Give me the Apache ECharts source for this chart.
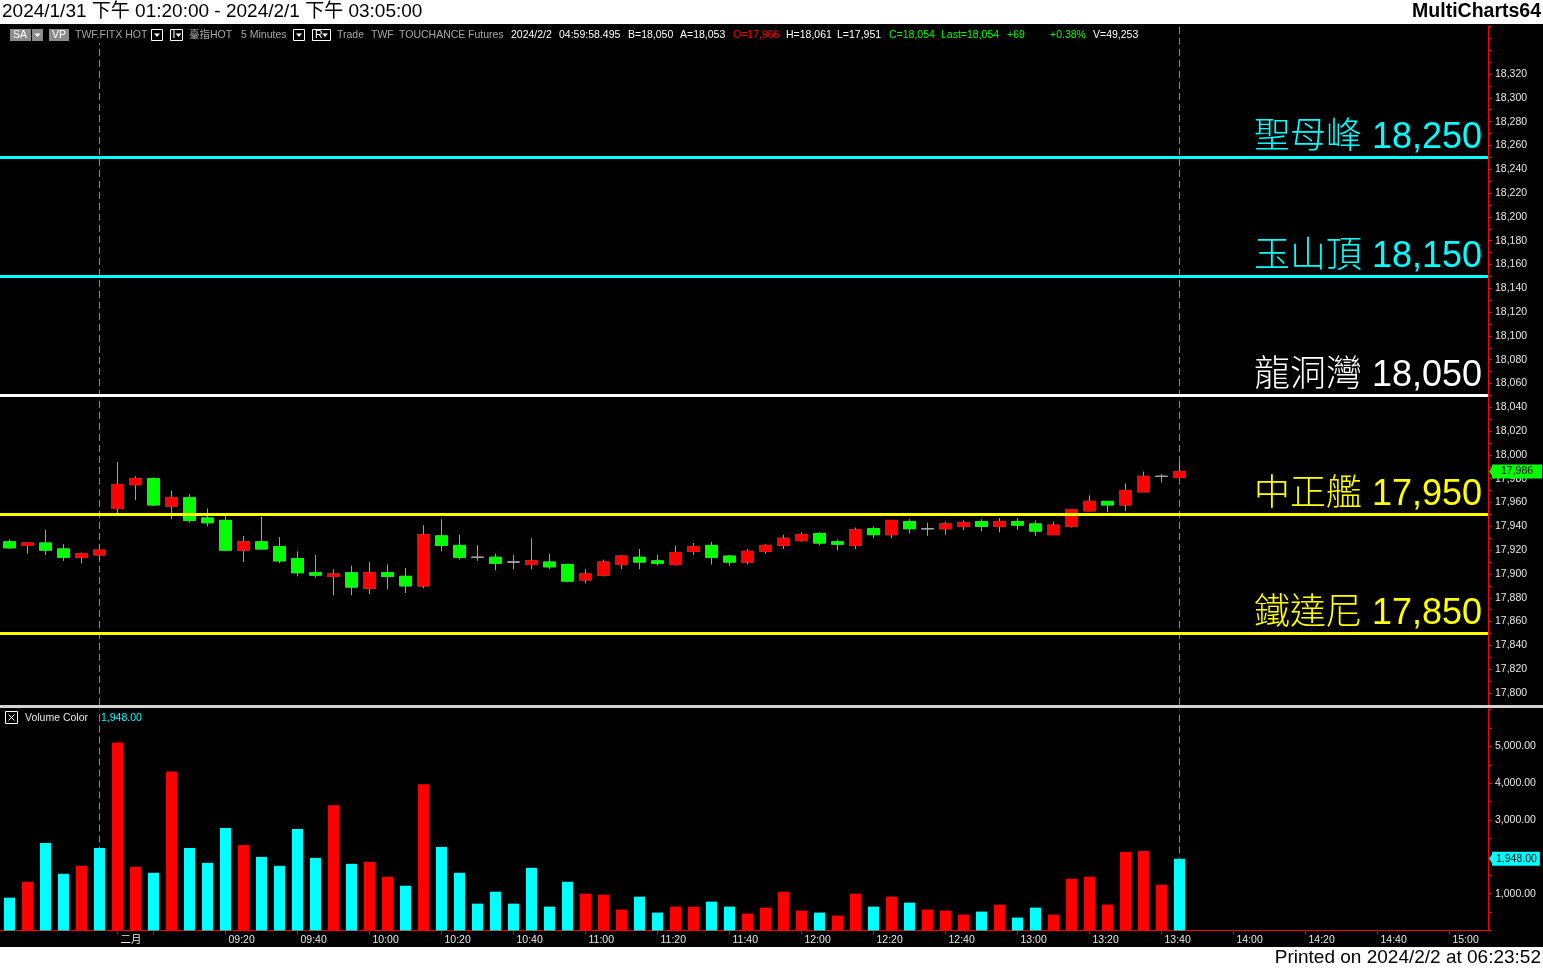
<!DOCTYPE html>
<html><head><meta charset="utf-8">
<script src="https://cdn.jsdelivr.net/npm/echarts@6/dist/echarts.min.js"></script>
<style>html,body{margin:0;padding:0;background:#000;overflow:hidden}#c{width:1543px;height:969px}</style>
</head><body><div id="c"></div>
<script>
// ---------- data ----------
const categories = ["04:35","04:40","04:45","04:50","04:55","05:00",
"08:50","08:55","09:00","09:05","09:10","09:15","09:20","09:25","09:30","09:35","09:40","09:45","09:50","09:55",
"10:00","10:05","10:10","10:15","10:20","10:25","10:30","10:35","10:40","10:45","10:50","10:55",
"11:00","11:05","11:10","11:15","11:20","11:25","11:30","11:35","11:40","11:45","11:50","11:55",
"12:00","12:05","12:10","12:15","12:20","12:25","12:30","12:35","12:40","12:45","12:50","12:55",
"13:00","13:05","13:10","13:15","13:20","13:25","13:30","13:35","13:40","13:45","13:50","13:55",
"14:00","14:05","14:10","14:15","14:20","14:25","14:30","14:35","14:40","14:45","14:50","14:55",
"15:00","15:05","15:10"];
const dayLabel = "二月";
const tickIndexes = [6,8,12,16,20,24,28,32,36,40,44,48,52,56,60,64,68,72,76,80];
const labelIndexes = [6,12,16,20,24,28,32,36,40,44,48,52,56,60,64,68,72,76,80];

const openP  = [17927,17924,17926,17921,17914,17916,17955,17975,17980,17957,17964,17947,17945,17920,17927,17923,17913,17901,17898,17901,17888,17901,17898,17890,17932,17924,17914,17914,17910,17908,17910,17908,17895,17899,17908,17914,17911,17908,17919,17924,17915,17910,17919,17924,17928,17934,17927,17924,17938,17933,17944,17938,17938,17940,17944,17940,17944,17942,17933,17940,17953,17961,17958,17969,17982,17981];
const closeP = [17922,17926,17920,17914,17917,17920,17975,17980,17958,17964,17945,17943,17920,17927,17921,17911,17901,17899,17900,17889,17901,17898,17890,17933,17924,17914,17914,17909,17910,17911,17906,17894,17900,17910,17915,17910,17909,17918,17923,17914,17910,17919,17924,17930,17933,17926,17925,17937,17933,17945,17938,17938,17942,17943,17940,17944,17941,17936,17941,17954,17961,17958,17970,17982,17982,17986];
const lowP   = [17921,17917,17916,17911,17909,17912,17951,17962,17957,17946,17943,17940,17919,17910,17921,17909,17898,17897,17882,17882,17883,17887,17884,17888,17919,17912,17911,17903,17904,17904,17904,17893,17892,17898,17904,17904,17907,17907,17916,17908,17907,17908,17917,17921,17927,17924,17920,17921,17930,17930,17934,17932,17933,17937,17936,17935,17937,17932,17933,17939,17953,17952,17953,17969,17977,17981];
const highP  = [17929,17926,17937,17925,17918,17924,17994,17982,17981,17970,17967,17955,17949,17932,17948,17931,17919,17916,17904,17907,17910,17908,17905,17941,17946,17933,17924,17917,17916,17930,17917,17908,17904,17912,17916,17921,17916,17924,17926,17927,17916,17921,17925,17933,17935,17935,17929,17939,17940,17945,17946,17943,17944,17945,17946,17947,17947,17945,17944,17954,17966,17961,17976,17986,17984,17994];

const volumes = [892,1324,2378,1541,1757,2243,5108,1730,1568,4324,2243,1838,2784,2324,2000,1757,2757,1973,3405,1811,1865,1459,1216,3973,2270,1568,730,1054,730,1703,649,1324,1000,973,568,919,486,649,649,784,649,459,622,1054,541,486,405,1000,649,919,757,568,541,432,514,703,351,622,432,1405,1459,703,2135,2162,1243,1948];
// 1 = red (up volume), 0 = cyan (down volume)
const volumeUp = [0,1,0,0,1,0,1,1,0,1,0,0,0,1,0,0,0,0,1,0,1,1,0,1,0,0,0,0,0,0,0,0,1,1,1,0,0,1,1,0,0,1,1,1,1,0,1,1,0,1,0,1,1,1,0,1,0,0,1,1,1,1,1,1,1,0];

const levelNames  = ["聖母峰","玉山頂","龍洞灣","中正艦","鐵達尼"];
const levelValues = [18250,18150,18050,17950,17850];
const levelColors = ["#00FFFF","#00FFFF","#FFFFFF","#FFFF00","#FFFF00"];
const lastPrice = 17986;
const lastVolume = 1948;
const sessionBreakIdx = [5, 65];

// ---------- helpers ----------
const FONT = '"Liberation Sans", "Noto Sans CJK TC", sans-serif';
function fmtInt(v){ return String(Math.round(v)).replace(/\B(?=(\d{3})+(?!\d))/g, ','); }
function fmt2(v){ return v.toFixed(2).replace(/\B(?=(\d{3})+(?!\d))/g, ','); }

const candleData = openP.map((o,i)=>[o, closeP[i], lowP[i], highP[i]]);
const bodyData = openP.map((o,i)=>[o, closeP[i], Math.min(o, closeP[i]), Math.max(o, closeP[i])]);
const volData = volumes.map((v,i)=>({value: v, itemStyle: {color: volumeUp[i] ? '#FF0000' : '#00FFFF'}}));

const PRICE_MIN = 17790, PRICE_MAX = 18360;
const priceTop = 26.4, priceH = 678.5;
const volTop = 709.7, volH = 220.8;

const tagPath = 'path://M0,5 L4,0 L4,10 Z';

const option = {
  backgroundColor: '#000',
  animation: false,
  grid: [
    {left: 0.5, top: priceTop, width: 1494, height: priceH, outerBoundsMode: 'none'},
    {left: 0, top: priceTop, width: 1488, height: priceH, outerBoundsMode: 'none'},
    {left: 0.5, top: volTop, width: 1494, height: volH, outerBoundsMode: 'none'},
    {left: 0, top: volTop, width: 1488, height: volH, outerBoundsMode: 'none'}
  ],
  xAxis: [
    {type: 'category', gridIndex: 0, data: categories, boundaryGap: true, show: false},
    {type: 'value', gridIndex: 1, min: 0, max: 1, show: false},
    {type: 'category', gridIndex: 2, data: categories, boundaryGap: true,
      axisLine: {show: false},
      axisTick: {show: true, alignWithLabel: true, length: 4, lineStyle: {color: '#FF0000'},
        interval: (idx) => tickIndexes.indexOf(idx) >= 0},
      axisLabel: {show: true, interval: (idx) => labelIndexes.indexOf(idx) >= 0,
        align: 'left', padding: [0,0,0,3], margin: 4, color: '#E8E8E8', fontSize: 10.5, fontFamily: FONT,
        formatter: (val, idx) => idx === 6 ? dayLabel : val},
      splitLine: {show: false}},
    {type: 'value', gridIndex: 3, min: 0, max: 1, show: true,
      axisLine: {show: true, onZero: false, lineStyle: {color: '#FF0000', width: 1}},
      axisTick: {show: false}, axisLabel: {show: false}, splitLine: {show: false}}
  ],
  yAxis: [
    {type: 'value', gridIndex: 0, min: PRICE_MIN, max: PRICE_MAX, show: false},
    {type: 'value', gridIndex: 1, position: 'right', min: PRICE_MIN, max: PRICE_MAX, interval: 10,
      axisLine: {show: true, onZero: false, lineStyle: {color: '#FF0000', width: 1}},
      axisTick: {show: true, length: 4, lineStyle: {color: '#FF0000'}},
      axisLabel: {show: true, margin: 7, color: '#E8E8E8', fontSize: 10.5, fontFamily: FONT,
        formatter: (v) => (v % 20 === 0 && v <= 18320 && v >= 17800) ? fmtInt(v) : ''},
      splitLine: {show: false}},
    {type: 'value', gridIndex: 2, min: 0, max: 6000, show: false},
    {type: 'value', gridIndex: 3, position: 'right', min: 0, max: 6000, interval: 500,
      axisLine: {show: true, onZero: false, lineStyle: {color: '#FF0000', width: 1}},
      axisTick: {show: true, length: 4, lineStyle: {color: '#FF0000'}},
      axisLabel: {show: true, margin: 7, color: '#E8E8E8', fontSize: 10.5, fontFamily: FONT,
        formatter: (v) => (v % 1000 === 0 && v >= 1000 && v <= 5000 && v !== 2000) ? fmt2(v) : ''},
      splitLine: {show: false}}
  ],
  series: [
    // session break dashed lines (price pane)
    {type: 'line', xAxisIndex: 0, yAxisIndex: 0, data: categories.map(()=>null), showSymbol: false, silent: true, z: 1,
      markLine: {z: 1, silent: true, symbol: ['none','none'], label: {show: false},
        lineStyle: {color: '#8A8A8A', type: [7,4], width: 1},
        data: sessionBreakIdx.map(i => ({xAxis: categories[i]}))}},
    // wicks
    {type: 'candlestick', xAxisIndex: 0, yAxisIndex: 0, data: candleData, barWidth: 12, silent: true, z: 2,
      itemStyle: {color: 'transparent', color0: 'transparent', borderColor: '#A0A0A0', borderColor0: '#A0A0A0', borderColorDoji: '#A0A0A0', borderWidth: 1}},
    // bodies
    {type: 'candlestick', xAxisIndex: 0, yAxisIndex: 0, data: bodyData, barWidth: 12, silent: true, z: 3,
      itemStyle: {color: '#FF0000', color0: '#00FF00', borderColor: '#FF0000', borderColor0: '#00FF00', borderColorDoji: '#A0A0A0', borderWidth: 1}},
    // level lines
    {type: 'line', xAxisIndex: 1, yAxisIndex: 1, data: [[0, levelValues[0]]], showSymbol: false, lineStyle: {opacity: 0}, silent: true, z: 4,
      markLine: {silent: true, symbol: ['none','none'],
        data: levelValues.map((v,i)=>({
          yAxis: v,
          lineStyle: {color: levelColors[i], width: 3, type: 'solid'},
          label: {show: true, position: 'insideEndTop', distance: [6, 1], color: levelColors[i],
            fontSize: 36, fontWeight: 300, fontFamily: FONT, formatter: levelNames[i] + ' ' + fmtInt(v)}
        }))}},
    // last price tag
    {type: 'line', xAxisIndex: 1, yAxisIndex: 1, data: [[0, lastPrice]], showSymbol: false, lineStyle: {opacity: 0}, silent: true, z: 6,
      markLine: {silent: true, symbol: ['none','none'],
        data: [{yAxis: lastPrice, lineStyle: {color: 'rgba(0,0,0,0)', width: 0},
          label: {show: true, position: 'end', distance: 4, color: '#000', backgroundColor: '#00FF00',
            padding: [2, 9, 1, 9], lineHeight: 11, fontSize: 10.5, fontFamily: FONT, formatter: fmtInt(lastPrice)}}]},
      markPoint: {silent: true, label: {show: false},
        data: [{coord: [1, lastPrice], symbol: tagPath, symbolSize: [4, 12], symbolOffset: [3, 0], itemStyle: {color: '#00FF00'}}]}},
    // session break dashed lines (volume pane), under bars
    {type: 'line', xAxisIndex: 2, yAxisIndex: 2, data: categories.map(()=>null), showSymbol: false, silent: true, z: 1,
      markLine: {z: 1, silent: true, symbol: ['none','none'], label: {show: false},
        lineStyle: {color: '#8A8A8A', type: [7,4], width: 1},
        data: sessionBreakIdx.map(i => ({xAxis: categories[i]}))}},
    // volume bars
    {type: 'bar', xAxisIndex: 2, yAxisIndex: 2, data: volData, barWidth: 11, silent: true, z: 2},
    // volume tag
    {type: 'line', xAxisIndex: 3, yAxisIndex: 3, data: [[0, lastVolume]], showSymbol: false, lineStyle: {opacity: 0}, silent: true, z: 6,
      markLine: {silent: true, symbol: ['none','none'],
        data: [{yAxis: lastVolume, lineStyle: {color: 'rgba(0,0,0,0)', width: 0},
          label: {show: true, position: 'end', distance: 4, color: '#000', backgroundColor: '#00FFFF',
            padding: [2, 3, 1, 4], lineHeight: 11, fontSize: 10.5, fontFamily: FONT, formatter: fmt2(lastVolume)}}]},
      markPoint: {silent: true, label: {show: false},
        data: [{coord: [1, lastVolume], symbol: tagPath, symbolSize: [4, 12], symbolOffset: [3, 0], itemStyle: {color: '#00FFFF'}}]}}
  ],
  graphic: []
};

// ---------- decorations (header, info bar, footer) ----------
const G = option.graphic;
const small = '10.5px ' + FONT;
function txt(x, y, s, fill, font, align){ G.push({type: 'text', x: x, y: y, z: 101, silent: true,
  style: {text: s, fill: fill, font: font || small, align: align || 'left', verticalAlign: 'middle'}}); }
function tri(cx, cy, fill){ G.push({type: 'polygon', z: 102, silent: true,
  shape: {points: [[cx-3, cy-1.5], [cx+3, cy-1.5], [cx, cy+2]]}, style: {fill: fill || '#fff'}}); }
function box(x, y, w, h, fill, stroke){ G.push({type: 'rect', z: 101, silent: true,
  shape: {x: x, y: y, width: w, height: h}, style: {fill: fill || 'none', stroke: stroke || null, lineWidth: 1}}); }

G.push({type: 'rect', z: 100, silent: true, shape: {x: 0, y: 0, width: 1543, height: 24}, style: {fill: '#fff'}});
G.push({type: 'rect', z: 100, silent: true, shape: {x: 0, y: 947, width: 1543, height: 22}, style: {fill: '#fff'}});
txt(2, 12, '2024/1/31 下午 01:20:00 - 2024/2/1 下午 03:05:00', '#000', '19px ' + FONT);
txt(1541, 12, 'MultiCharts64', '#000', 'bold 19.5px ' + FONT, 'right');
txt(1541, 958, 'Printed on 2024/2/2 at 06:23:52', '#000', '19px ' + FONT, 'right');

// info bar
G.push({type: 'rect', z: 100, silent: true, shape: {x: 0, y: 27, width: 1160, height: 16}, style: {fill: '#000'}});
box(10, 29, 21, 12, '#8C8C8C'); txt(13, 35.5, 'SA', '#fff');
box(32, 29, 11, 12, '#8C8C8C'); tri(37.5, 35);
box(49, 29, 20, 12, '#8C8C8C'); txt(52, 35.5, 'VP', '#fff');
txt(75, 35.5, 'TWF.FITX HOT', '#A8A8A8');
box(151.5, 29.5, 11, 11, null, '#fff'); tri(157, 35);
box(170.5, 29.5, 12, 11, null, '#fff'); txt(172.5, 35.5, 'I', '#fff'); tri(178.5, 35);
txt(189, 35.5, '臺指HOT', '#A8A8A8');
txt(241, 35.5, '5 Minutes', '#A8A8A8');
box(293.5, 29.5, 11, 11, null, '#fff'); tri(299, 35);
box(312.5, 29.5, 18, 11, null, '#fff'); txt(315, 35.5, 'R', '#fff'); tri(325, 35);
txt(337, 35.5, 'Trade', '#A8A8A8');
txt(371, 35.5, 'TWF', '#A8A8A8');
txt(399, 35.5, 'TOUCHANCE', '#A8A8A8');
txt(468, 35.5, 'Futures', '#A8A8A8');
txt(511, 35.5, '2024/2/2', '#fff');
txt(559, 35.5, '04:59:58.495', '#fff');
txt(628, 35.5, 'B=18,050', '#fff');
txt(680, 35.5, 'A=18,053', '#fff');
txt(733, 35.5, 'O=17,966', '#FF0000');
txt(786, 35.5, 'H=18,061', '#fff');
txt(837, 35.5, 'L=17,951', '#fff');
txt(889, 35.5, 'C=18,054', '#00FF00');
txt(941, 35.5, 'Last=18,054', '#00FF00');
txt(1007, 35.5, '+69', '#00FF00');
txt(1050, 35.5, '+0.38%', '#00FF00');
txt(1093, 35.5, 'V=49,253', '#fff');

// pane separator
G.push({type: 'rect', z: 100, silent: true, shape: {x: 0, y: 705, width: 1543, height: 3}, style: {fill: '#D4D4D4'}});
// volume indicator legend
box(5.5, 711.5, 12, 12, null, '#fff');
G.push({type: 'line', z: 102, silent: true, shape: {x1: 8.5, y1: 714.5, x2: 14.5, y2: 720.5}, style: {stroke: '#fff', lineWidth: 1}});
G.push({type: 'line', z: 102, silent: true, shape: {x1: 14.5, y1: 714.5, x2: 8.5, y2: 720.5}, style: {stroke: '#fff', lineWidth: 1}});
txt(25, 718, 'Volume Color', '#E8E8E8');
txt(101, 718, fmt2(lastVolume), '#00FFFF');

const chart = echarts.init(document.getElementById('c'), null, {renderer: 'canvas', width: 1543, height: 969});
chart.setOption(option);
</script>
</body></html>
